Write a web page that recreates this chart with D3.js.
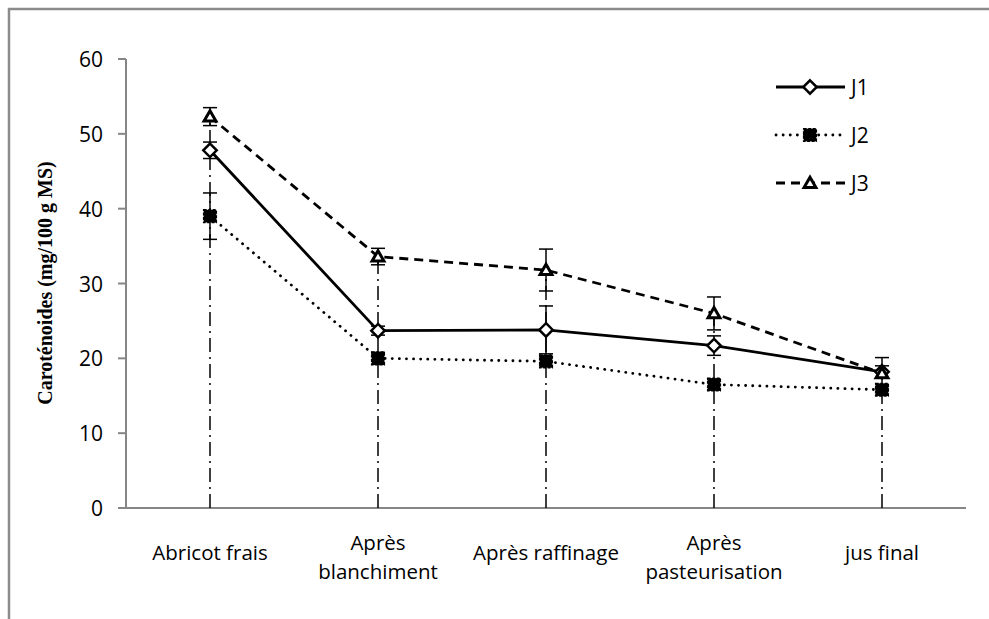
<!DOCTYPE html>
<html lang="fr">
<head>
<meta charset="UTF-8">
<title>Caroténoides</title>
<script src="https://d3js.org/d3.v7.min.js"></script>
<style>
    body { margin: 0; background: #fff; }
    .tick_text { font-family: "Open Sans", sans-serif; font-size: 21px; fill: #000; }
    .cat_text { font-family: "Open Sans", sans-serif; font-size: 20.5px; fill: #000; }
    .legend_text { font-family: "Open Sans", sans-serif; font-size: 21px; fill: #000; }
</style>
</head>
<body>
<svg width="989" height="619"></svg>
<script>
    // data
    const categories = [["Abricot frais"], ["Après", "blanchiment"], ["Après raffinage"], ["Après", "pasteurisation"], ["jus final"]];
    const j1 = [47.8, 23.7, 23.8, 21.7, 18.2];
    const j1_err = [1.1, 0.6, 3.2, 1.3, 0.8];
    const j2 = [39.0, 20.0, 19.6, 16.5, 15.8];
    const j2_err = [3.1, 0.8, 0.6, 0.7, 0.7];
    const j3 = [52.3, 33.6, 31.8, 26.0, 18.0];
    const j3_err = [1.2, 1.1, 2.8, 2.2, 2.1];
    const y_ticks = [0, 10, 20, 30, 40, 50, 60];

    const svg = d3.select("svg");

    // outer frame
    svg.append("path")
        .attr("d", "M9,619 V9 H989")
        .attr("fill", "none").attr("stroke", "#8c8c8c").attr("stroke-width", 2.5);

    const x = d3.scaleBand().domain(d3.range(categories.length)).range([126, 966]);
    const y = d3.scaleLinear().domain([0, 60]).range([508, 59]);
    const cx = i => x(i) + x.bandwidth() / 2;

    // y axis
    svg.append("line").attr("x1", 126).attr("x2", 126).attr("y1", y(60)).attr("y2", y(0))
        .attr("stroke", "#868686").attr("stroke-width", 2);
    svg.selectAll(".ytick").data(y_ticks).enter().append("line")
        .attr("x1", 118).attr("x2", 126).attr("y1", d => y(d)).attr("y2", d => y(d))
        .attr("stroke", "#868686").attr("stroke-width", 2);
    svg.selectAll(".ylab").data(y_ticks).enter().append("text")
        .attr("class", "tick_text")
        .attr("x", 103).attr("y", d => y(d) + 8)
        .attr("text-anchor", "end").text(d => d);

    // x axis
    svg.append("line").attr("x1", 126).attr("x2", 966).attr("y1", y(0)).attr("y2", y(0))
        .attr("stroke", "#868686").attr("stroke-width", 2);
    categories.forEach(function (lines, i) {
        const t = svg.append("text").attr("class", "cat_text").attr("text-anchor", "middle");
        lines.forEach(function (s, k) {
            t.append("tspan").attr("x", cx(i)).attr("y", (lines.length === 1 ? 560 : 550) + k * 28.5).text(s);
        });
    });

    // y title
    svg.append("text")
        .attr("transform", "translate(52," + 283 + ") rotate(-90)")
        .attr("text-anchor", "middle")
        .style("font-family", "'Liberation Serif', 'Times New Roman', serif")
        .style("font-size", "20px").style("font-weight", "bold")
        .text("Caroténoides (mg/100 g MS)");

    // dash-dot drop lines
    categories.forEach(function (c, i) {
        svg.append("line")
            .attr("x1", cx(i)).attr("x2", cx(i))
            .attr("y1", y(0)).attr("y2", y(Math.max(j1[i], j2[i], j3[i])))
            .attr("stroke", "#000").attr("stroke-width", 1.5)
            .attr("stroke-dasharray", "14,5,2,5");
    });

    const series = [
        { name: "J1", vals: j1, err: j1_err, dash: null, cap: "butt", marker: "diamond", ly: 87 },
        { name: "J2", vals: j2, err: j2_err, dash: "0.1,7", cap: "round", marker: "square", ly: 135 },
        { name: "J3", vals: j3, err: j3_err, dash: "9,6", cap: "butt", marker: "triangle", ly: 183 }
    ];

    // error bars
    series.forEach(function (s) {
        s.vals.forEach(function (v, i) {
            const g = svg.append("g").attr("stroke", "#000").attr("stroke-width", 1.5);
            g.append("line").attr("x1", cx(i)).attr("x2", cx(i))
                .attr("y1", y(v - s.err[i])).attr("y2", y(v + s.err[i]));
            [v - s.err[i], v + s.err[i]].forEach(function (e) {
                g.append("line").attr("x1", cx(i) - 7).attr("x2", cx(i) + 7)
                    .attr("y1", y(e)).attr("y2", y(e));
            });
        });
    });

    const line = d3.line().x((d, i) => cx(i)).y(d => y(d));

    function marker(g, type, px, py) {
        if (type === "diamond") {
            g.append("path").attr("d", d3.symbol(d3.symbolDiamond2, 115)())
                .attr("transform", "translate(" + px + "," + py + ")")
                .attr("fill", "#fff").attr("stroke", "#000").attr("stroke-width", 2.5);
        } else if (type === "square") {
            g.append("path").attr("d", d3.symbol(d3.symbolSquare, 160)())
                .attr("transform", "translate(" + px + "," + py + ")")
                .attr("fill", "#000").attr("stroke", "#000").attr("stroke-width", 1.5)
                .attr("stroke-dasharray", "3,1.5");
        } else {
            g.append("path").attr("d", d3.symbol(d3.symbolTriangle2, 100)())
                .attr("transform", "translate(" + px + "," + (py + 1) + ")")
                .attr("fill", "#fff").attr("stroke", "#000").attr("stroke-width", 3);
        }
    }

    series.forEach(function (s) {
        svg.append("path").datum(s.vals)
            .attr("d", line)
            .attr("fill", "none").attr("stroke", "#000")
            .attr("stroke-width", 2.8)
            .attr("stroke-linecap", s.cap)
            .attr("stroke-dasharray", s.dash);
        const g = svg.append("g");
        s.vals.forEach((v, i) => marker(g, s.marker, cx(i), y(v)));

        // legend
        svg.append("line").attr("x1", 776).attr("x2", 845).attr("y1", s.ly).attr("y2", s.ly)
            .attr("stroke", "#000").attr("stroke-width", 2.8)
            .attr("stroke-linecap", s.cap).attr("stroke-dasharray", s.dash);
        marker(svg.append("g"), s.marker, 810, s.ly);
        svg.append("text").attr("class", "legend_text")
            .attr("x", 851).attr("y", s.ly + 8).text(s.name);
    });
</script>
</body>
</html>
